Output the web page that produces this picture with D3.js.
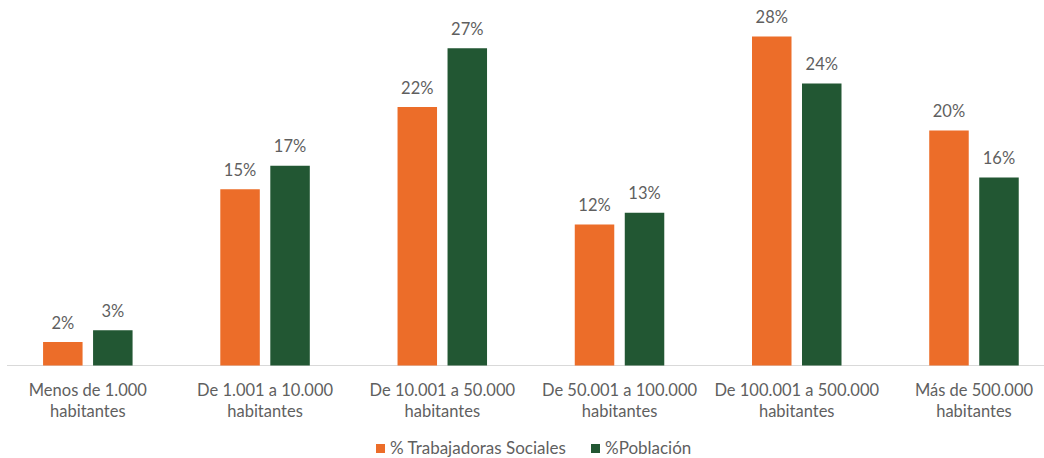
<!DOCTYPE html>
<html>
<head>
<meta charset="utf-8">
<script src="https://cdn.jsdelivr.net/npm/d3@7"></script>
<style>
  html, body { margin: 0; padding: 0; background: #fff; }
  svg text { font-family: Lato, "Open Sans", sans-serif; fill: #5f5f5f; }
</style>
</head>
<body>
<svg id="chart" width="1044" height="458"></svg>
<script>
// Distribución por tamaño de municipio
const categories = [
  ["Menos de 1.000", "habitantes"],
  ["De 1.001 a 10.000", "habitantes"],
  ["De 10.001 a 50.000", "habitantes"],
  ["De 50.001 a 100.000", "habitantes"],
  ["De 100.001 a 500.000", "habitantes"],
  ["Más de 500.000", "habitantes"]
];
const seriesNames = ["% Trabajadoras Sociales", "%Población"];
const trabajadoras = [2, 15, 22, 12, 28, 20];
const poblacion = [3, 17, 27, 13, 24, 16];
const colors = ["#EC6D29", "#225733"];

const svg = d3.select("#chart");
const catKeys = categories.map(c => c.join(" "));
const seriesValues = [trabajadoras, poblacion];

const baseline = 365.5;
const x0 = d3.scaleBand()
  .domain(catKeys)
  .range([-0.8, 1062.6])
  .paddingInner(0.495)
  .paddingOuter(0.2475);
const x1 = d3.scaleBand()
  .domain(seriesNames)
  .range([0, x0.bandwidth()])
  .paddingInner(0.21);
const y = d3.scaleLinear().domain([0, 30]).range([baseline, baseline - 352.5]);

// Horizontal category axis line
svg.append("line")
  .attr("x1", 7).attr("x2", 1044)
  .attr("y1", baseline).attr("y2", baseline)
  .attr("stroke", "#d9d9d9").attr("stroke-width", 1.2);

// Bars and value labels
const groups = svg.selectAll("g.group")
  .data(catKeys)
  .join("g")
  .attr("class", "group")
  .attr("transform", d => `translate(${x0(d)},0)`);

groups.each(function(cat, ci) {
  const g = d3.select(this);
  seriesNames.forEach((s, si) => {
    const v = seriesValues[si][ci];
    g.append("rect")
      .attr("x", x1(s))
      .attr("y", y(v))
      .attr("width", x1.bandwidth())
      .attr("height", baseline - y(v))
      .attr("fill", colors[si]);
    g.append("text")
      .attr("x", x1(s) + x1.bandwidth() / 2)
      .attr("y", y(v) - 13.5)
      .attr("text-anchor", "middle")
      .attr("font-size", "16.5px")
      .text(v + "%");
  });
});

// Category labels (two lines)
groups.append("text")
  .attr("x", x0.bandwidth() / 2)
  .attr("text-anchor", "middle")
  .attr("font-size", "16.5px")
  .each(function(d, i) {
    const t = d3.select(this);
    categories[i].forEach((line, li) => {
      t.append("tspan")
        .attr("x", x0.bandwidth() / 2)
        .attr("y", 396 + li * 21)
        .text(line);
    });
  });

// Legend
const legendX = [376, 591];
const legend = svg.selectAll("g.legend")
  .data(seriesNames)
  .join("g")
  .attr("class", "legend")
  .attr("transform", (d, i) => `translate(${legendX[i]},444)`);
legend.append("rect")
  .attr("width", 9).attr("height", 9)
  .attr("fill", (d, i) => colors[i]);
legend.append("text")
  .attr("x", 14).attr("y", 9.5)
  .attr("font-size", "17px")
  .text(d => d);
</script>
</body>
</html>
